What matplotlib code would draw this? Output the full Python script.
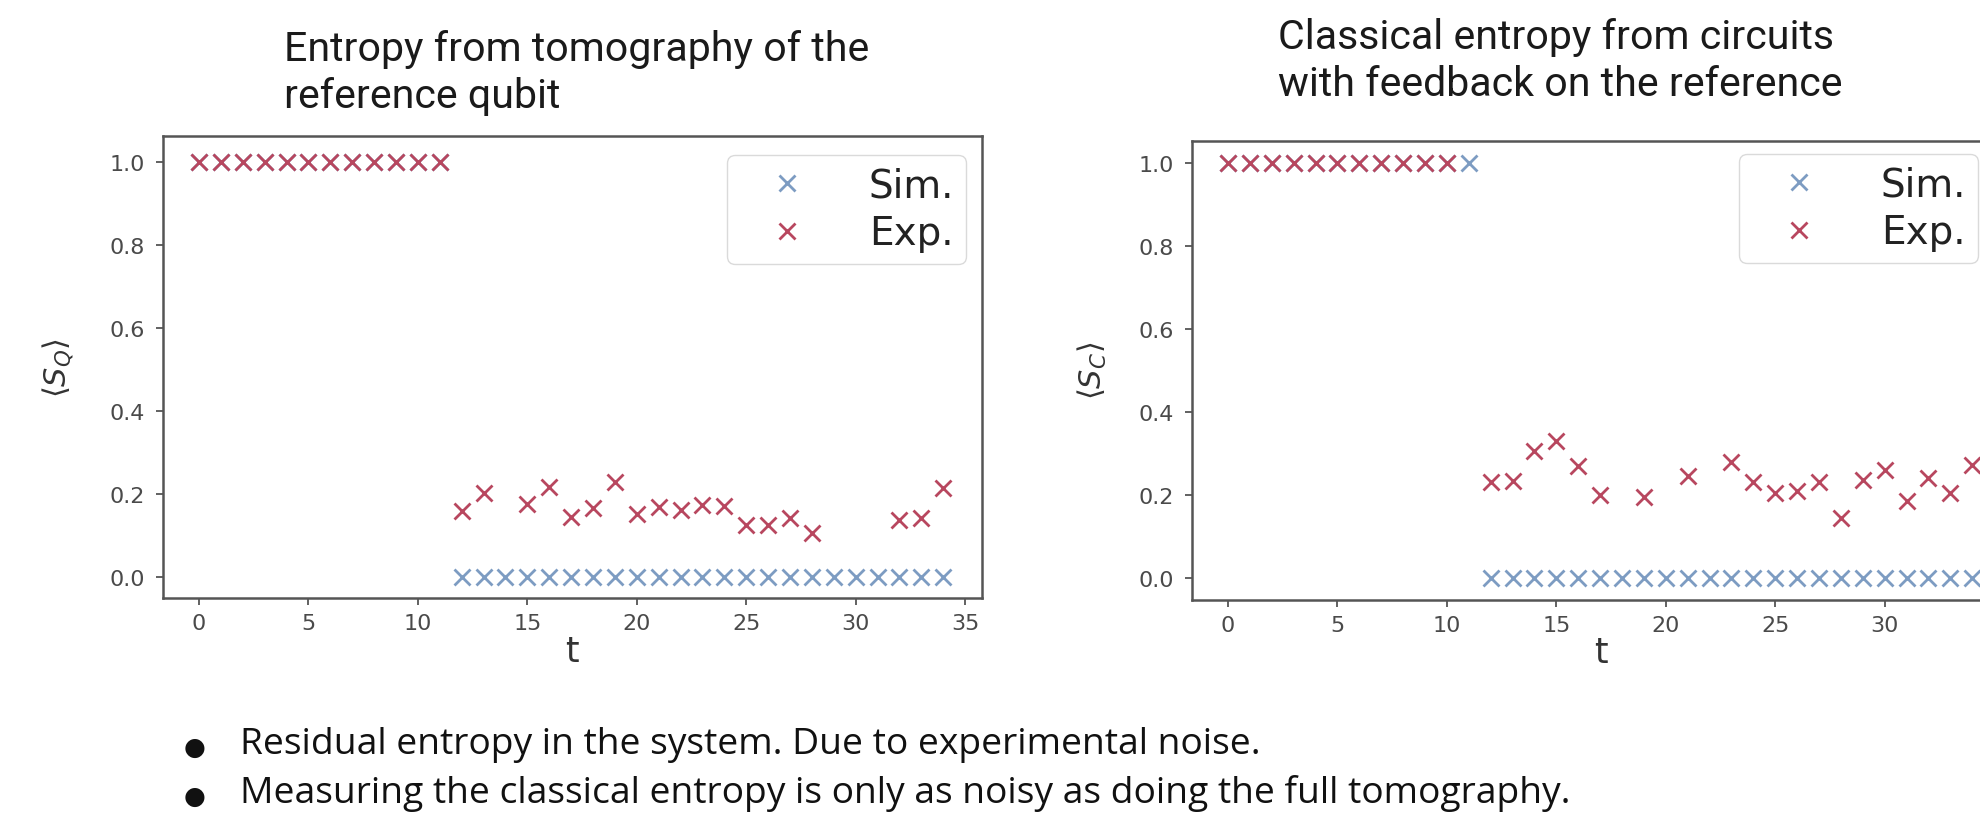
import numpy as np
import matplotlib
matplotlib.use("Agg")
import matplotlib.pyplot as plt

nan = np.nan

# ---------------- data ----------------
t = list(range(35))
sim_q = [1.0] * 12 + [0.0] * 23
exp_q = [1.0] * 12 + [0.160, 0.202, nan, 0.176, 0.218, 0.146, 0.168, 0.230,
                      0.152, 0.170, 0.162, 0.174, 0.172, 0.126, 0.126, 0.142,
                      0.106, nan, nan, nan, 0.138, 0.142, 0.214]
sim_c = [1.0] * 12 + [0.0] * 23
exp_c = [1.0] * 11 + [nan] + [0.230, 0.234, 0.305, 0.331, 0.269, 0.199, nan,
                              0.194, nan, 0.245, nan, 0.280, 0.230, 0.205,
                              0.210, 0.230, 0.145, 0.235, 0.261, 0.185, 0.241,
                              0.205, 0.271]
xticks = [0, 5, 10, 15, 20, 25, 30, 35]
yticks = [0.0, 0.2, 0.4, 0.6, 0.8, 1.0]
series_labels = ["Sim.", "Exp."]
title_left = ["Entropy from tomography of the", "reference qubit"]
title_right = ["Classical entropy from circuits", "with feedback on the reference"]
ylabels = [r"$\langle S_Q\rangle$", r"$\langle S_C\rangle$"]
bullets = ["Residual entropy in the system. Due to experimental noise.",
           "Measuring the classical entropy is only as noisy as doing the full tomography."]

# ---------------- styling ----------------
W, H = 1981, 828
BLUE = "#7d9cc2"
RED = "#b8475f"
SPINE = "#555555"
TICKC = "#4a4a4a"

fig = plt.figure(figsize=(W / 100, H / 100), dpi=100)
fig.patch.set_facecolor("white")


def px_rect(x0, top, x1, bottom):
    return [x0 / W, 1 - bottom / H, (x1 - x0) / W, (bottom - top) / H]


ax1 = fig.add_axes(px_rect(162.7, 137, 981.7, 599))
ax2 = fig.add_axes(px_rect(1191.7, 141.5, 2010.7, 600.5))

configs = [
    (ax1, sim_q, exp_q, ylabels[0], (-0.05, 1.0634), -0.106, (966, 156)),
    (ax2, sim_c, exp_c, ylabels[1], (-0.052, 1.054), -0.101, (1978, 155)),
]

for ax, sim, ex, ylab, ylim, ylab_x, leg_corner in configs:
    ax.plot(t, sim, linestyle="none", marker="x", markersize=12,
            markeredgewidth=2.0, color=BLUE, label=series_labels[0])
    ax.plot(t, ex, linestyle="none", marker="x", markersize=12,
            markeredgewidth=2.0, color=RED, label=series_labels[1])
    ax.set_xlim(-1.66, 35.76)
    ax.set_ylim(*ylim)
    ax.set_xticks(xticks)
    ax.set_yticks(yticks)
    ax.set_yticklabels([f"{v:.1f}" for v in yticks])
    for sp in ax.spines.values():
        sp.set_color(SPINE)
        sp.set_linewidth(1.8)
    ax.tick_params(axis="both", length=5, width=1.3, color=SPINE,
                   labelcolor=TICKC, labelsize=16)
    ax.tick_params(axis="y", pad=8)
    ax.tick_params(axis="x", pad=6)
    ax.set_ylabel(ylab, fontsize=22, color="#333333")
    ax.yaxis.set_label_coords(ylab_x, 0.5)
    ax.set_xlabel("t", fontsize=25, color="#333333")
    ax.xaxis.set_label_coords(0.5, -0.078)
    leg = ax.legend(loc="upper right",
                    bbox_to_anchor=(leg_corner[0] / W, 1 - leg_corner[1] / H),
                    bbox_transform=fig.transFigure, borderaxespad=0,
                    fontsize=28, handlelength=2.5, handletextpad=0.85,
                    borderpad=0.3, labelspacing=0.25, framealpha=0.8,
                    edgecolor="0.82", fancybox=True)
    for txt in leg.get_texts():
        txt.set_color("#222222")

# ---------------- titles and bullet text ----------------
renderer = fig.canvas.get_renderer()


def fit_width(txt, target):
    w = txt.get_window_extent(renderer).width
    txt.set_fontsize(txt.get_fontsize() * target / w)
    return txt.get_fontsize()


def title_block(lines, x, baselines, width):
    first = fig.text(x / W, 1 - baselines[0] / H, lines[0], fontsize=28,
                     family="Roboto", color="#1a1a1a", ha="left", va="baseline")
    size = fit_width(first, width)
    for line, b in zip(lines[1:], baselines[1:]):
        fig.text(x / W, 1 - b / H, line, fontsize=size, family="Roboto",
                 color="#1a1a1a", ha="left", va="baseline")


title_block(title_left, 284, [61, 108], 583)
title_block(title_right, 1278, [49, 95.5], 556)

b_base = [754, 803]
first = fig.text(240 / W, 1 - b_base[0] / H, bullets[0], fontsize=22,
                 family="Open Sans", color="#111111", ha="left", va="baseline")
bsize = fit_width(first, 1023)
fig.text(240 / W, 1 - b_base[1] / H, bullets[1], fontsize=bsize,
         family="Open Sans", color="#111111", ha="left", va="baseline")
for b in b_base:
    fig.text(195 / W, 1 - (b - 6) / H, "\u25CF", fontsize=18,
             family="DejaVu Sans", color="#111111", ha="center", va="center")

fig.savefig("out.png", dpi=100, facecolor="white")
